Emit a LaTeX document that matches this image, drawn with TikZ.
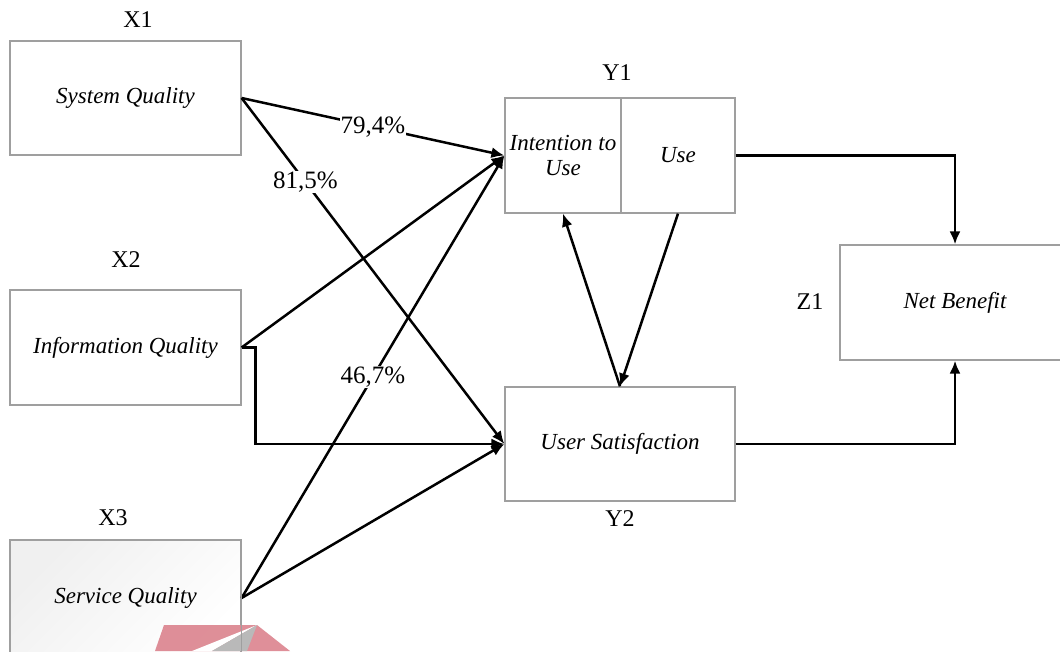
\documentclass[tikz,border=0pt]{standalone}
\usepackage{fontspec}
\setmainfont{Liberation Serif}
\usetikzlibrary{positioning,arrows.meta}
\definecolor{wmred}{RGB}{221,137,147}
\tikzset{
    varbox/.style={
        rectangle,
        draw=gray!75, % 边框颜色为灰色
        line width=1.2pt,
        fill=white,
        inner sep=0,
        font=\fontsize{23}{25}\selectfont\itshape
    },
    tagnode/.style={
        inner sep=0,
        font=\fontsize{24}{26}\selectfont
    },
    pathline/.style={
        line width=2.5pt, % 箭头线加粗
        -{Latex[length=13pt,width=11pt]}
    },
    pctlabel/.style={
        fill=white,
        inner sep=1pt,
        font=\fontsize{25}{27}\selectfont
    }
}

\begin{document}
\begin{tikzpicture}[x=1pt,y=-1pt]
            \clip (0,0) rectangle (1060,651);
            % 自变量
            \node[varbox, minimum width=231pt, minimum height=114pt] (sq) at (125.5,98) {System Quality};
            \node[varbox, minimum width=231pt, minimum height=115pt] (iq) at (125.5,347.5) {Information Quality};
            \node[varbox, minimum width=231pt, minimum height=116pt,
                  top color=gray!12, bottom color=white, shading angle=45] (svq) at (125.5,598) {Service Quality};
            % 中间变量
            \node[varbox, minimum width=116pt, minimum height=115pt, align=center] (itu) at (563,155.5) {Intention to\\Use};
            \node[varbox, minimum width=114pt, minimum height=115pt] (use) at (678,155.5) {Use};
            \node[varbox, minimum width=230pt, minimum height=114pt] (us) at (620,444) {User Satisfaction};
            \node[varbox, minimum width=230pt, minimum height=115pt] (nb) at (955,302.5) {Net Benefit};
            % 变量编号
            \node[tagnode] (x1) at (138,20) {X1};
            \node[tagnode] (x2) at (126,260) {X2};
            \node[tagnode] (x3) at (113,518) {X3};
            \node[tagnode] (y1) at (617,73) {Y1};
            \node[tagnode] (y2) at (620,519) {Y2};
            \node[tagnode] (z1) at (810,302) {Z1};
            % 路径
            \draw[pathline] (sq.east) -- node[pctlabel] {79,4\%} (itu.west);
            \draw[pathline] (sq.east) -- node[pctlabel, pos=0.243] {81,5\%} (us.west);
            \draw[pathline] (iq.east) -- (itu.west);
            \draw[pathline] (iq.east) -- ++(14,0) |- (us.west);
            \draw[pathline] (svq.east) -- node[pctlabel] {46,7\%} (itu.west);
            \draw[pathline] (svq.east) -- (us.west);
            \draw[pathline] (us.north) -- (itu.south);
            \draw[pathline] (use.south) -- (us.north);
            \draw[pathline] (use.east) -| (nb.north);
            \draw[pathline] (us.east) -| (nb.south);
            % 水印
            \fill[wmred, opacity=0.95] (155,651) -- (164,625) -- (257,625) -- (290,651) -- cycle;
            \fill[white] (257,625) -- (192,651) -- (212,651) -- cycle;
            \fill[gray!55] (257,625) -- (212,651) -- (247,651) -- cycle;
            \draw[gray!75, line width=1.2pt] (svq.north east) -- (svq.south east);
\end{tikzpicture}
\end{document}
